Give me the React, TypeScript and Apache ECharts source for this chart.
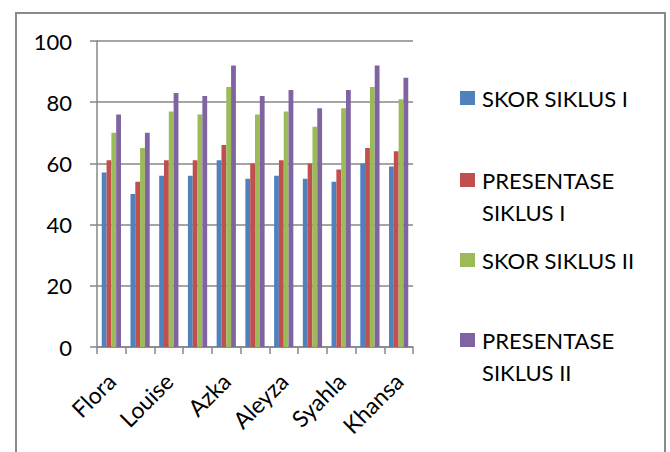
import React, { useEffect, useRef } from "react";
import * as echarts from "echarts";

const categories = ["Flora", "Siswa 2", "Louise", "Siswa 4", "Azka", "Siswa 6", "Aleyza", "Siswa 8", "Syahla", "Siswa 10", "Khansa"];
const skorSiklus1 = [57, 50, 56, 56, 61, 55, 56, 55, 54, 60, 59];
const presentaseSiklus1 = [61, 54, 61, 61, 66, 60, 61, 60, 58, 65, 64];
const skorSiklus2 = [70, 65, 77, 76, 85, 76, 77, 72, 78, 85, 81];
const presentaseSiklus2 = [76, 70, 83, 82, 92, 82, 84, 78, 84, 92, 88];
const seriesNames = ["SKOR SIKLUS I", "PRESENTASE SIKLUS I", "SKOR SIKLUS II", "PRESENTASE SIKLUS II"];
const yTicks = { min: 0, max: 100, interval: 20 };

const colors = ["#4F81BD", "#C0504D", "#9BBB59", "#8064A2"];
const FONT = "Lato";

export default function App() {
  const ref = useRef<HTMLDivElement>(null);
  useEffect(() => {
    if (!ref.current) return;
    const chart = echarts.init(ref.current, undefined, { renderer: "svg" });
    const data = [skorSiklus1, presentaseSiklus1, skorSiklus2, presentaseSiklus2];
    const legendTops = [82, 132, 244, 292];
    const twoLine = [false, true, false, true];
    chart.setOption({
      animation: false,
      backgroundColor: "#ffffff",
      color: colors,
      grid: { left: 97, right: 257, top: 41, bottom: 105, containLabel: false },
      xAxis: {
        type: "category",
        data: categories,
        boundaryGap: true,
        axisLine: { lineStyle: { color: "#878787", width: 1.5 } },
        axisTick: { show: true, length: 7, interval: 0, lineStyle: { color: "#878787", width: 1.5 } },
        axisLabel: { interval: 1, rotate: 45, margin: 30, fontFamily: FONT, fontSize: 23, color: "#000" },
      },
      yAxis: {
        type: "value",
        min: yTicks.min,
        max: yTicks.max,
        interval: yTicks.interval,
        axisLine: { show: true, lineStyle: { color: "#878787", width: 1.5 } },
        axisTick: { show: true, length: 7, lineStyle: { color: "#878787", width: 1.5 } },
        axisLabel: { margin: 25, fontFamily: FONT, fontSize: 22, color: "#000" },
        splitLine: { show: true, lineStyle: { color: "#878787", width: 1.5 } },
      },
      legend: seriesNames.map((n, i) => ({
        data: [n],
        orient: "vertical",
        left: 460,
        top: legendTops[i],
        padding: 0,
        itemWidth: 15,
        itemHeight: 14,
        itemGap: 7,
        icon: "rect",
        formatter: twoLine[i] ? "\n" + n.replace(" ", "\n") : n,
        textStyle: {
          fontFamily: FONT,
          fontSize: 22,
          color: "#000",
          lineHeight: 32,
          padding: [0, 0, 0, 2],
        },
      })),
      graphic: [
        {
          type: "rect",
          shape: { x: 16, y: 13, width: 649, height: 460 },
          style: { fill: "none", stroke: "#8a8a8a", lineWidth: 2 },
          silent: true,
        },
      ],
      series: seriesNames.map((n, i) => ({
        name: n,
        type: "bar",
        data: data[i],
        barGap: "0%",
        barCategoryGap: "33%",
        itemStyle: { color: colors[i] },
      })),
    });
    return () => chart.dispose();
  }, []);
  return (
    <div
      ref={ref}
      style={{ position: "fixed", left: 0, top: 0, width: 670, height: 452, background: "#fff" }}
    />
  );
}
